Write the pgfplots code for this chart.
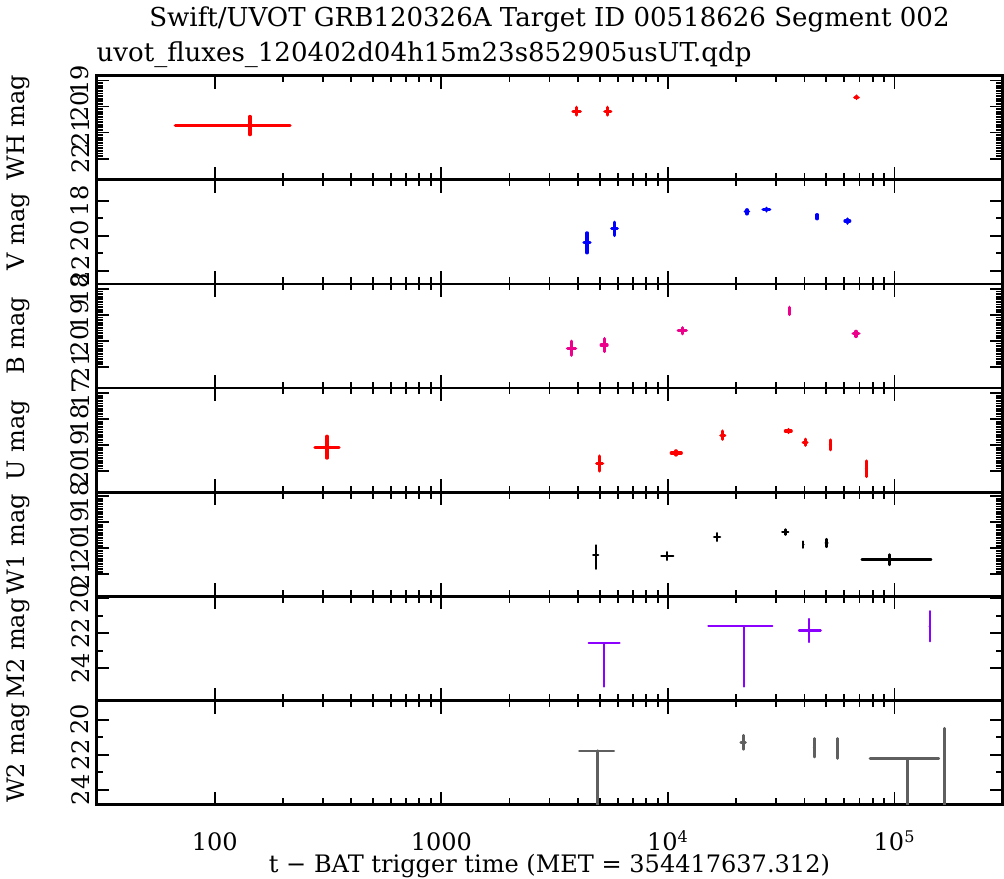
\documentclass[border=0pt]{standalone}
\usepackage{fontspec}
\setmainfont{DejaVu Serif}
\usepackage{pgfplots}
\pgfplotsset{compat=1.18}
\usepgfplotslibrary{groupplots}

\definecolor{uvpurple}{RGB}{140,0,255}
\definecolor{uvgray}{RGB}{95,95,95}

\pgfplotsset{
  uvot/.style={
    xmode=log, xmin=30, xmax=3e5,
    y dir=reverse,
    scale only axis, width=452.5pt, height=52pt,
    xtick={100,1000,10000,100000},
    xticklabels={100,1000,10\textsuperscript{4},10\textsuperscript{5}},
    tick align=inside,
    major tick length=6.5pt, minor tick length=3.2pt,
    every tick/.style={black, line width=0.9pt},
    axis line style={line width=1.3pt},
    /pgf/number format/assume math mode=true,
    tick label style={font=\fontsize{12}{12}\selectfont},
    yticklabel style={rotate=90, anchor=south},
    xticklabel style={anchor=base, yshift=-23pt},
    ylabel style={at={(axis description cs:-0.086,0.5)}, anchor=center,
      font=\fontsize{12}{12}\selectfont},
    clip mode=individual,
  },
  eb/.style 2 args={draw=none, mark=none,
    error bars/.cd, x dir=both, x explicit, y dir=both, y explicit,
    error mark=none, error bar style={draw=#1, line width=#2, line cap=round}},
}

\begin{document}
\begin{tikzpicture}
\begin{groupplot}[
  group style={group size=1 by 7, vertical sep=0pt, xticklabels at=edge bottom},
  uvot,
]
% WH
\nextgroupplot[ymin=18.81, ymax=22.81, ytick={19,20,21,22}, minor y tick num=9, ylabel={WH mag}]
\addplot[eb={red}{1.6pt}] table[x=t, y=m, x error minus=tm, x error plus=tp, y error minus=mm, y error plus=mp] {
t m tm tp mm mp
143 20.73 76 72 0.35 0.35
3955 20.18 150 150 0.15 0.15
5430 20.18 165 165 0.15 0.15
67900 19.64 1200 1200 0.05 0.05
};
% V
\nextgroupplot[ymin=16.8, ymax=22.74, ytick={18,20,22}, minor y tick num=1, ylabel={V mag}]
\addplot[eb={blue}{1.6pt}] table[x=t, y=m, x error minus=tm, x error plus=tp, y error minus=mm, y error plus=mp] {
t m tm tp mm mp
4395 20.36 135 135 0.53 0.61
5810 19.6 170 170 0.38 0.38
22300 18.63 400 400 0.12 0.12
27200 18.5 920 920 0.08 0.08
45500 18.91 0 0 0.12 0.12
61900 19.16 1500 1500 0.12 0.12
};
% B
\nextgroupplot[ymin=17.81, ymax=21.81, ytick={18,19,20,21}, minor y tick num=9, ylabel={B mag}]
\addplot[eb={magenta}{1.6pt}] table[x=t, y=m, x error minus=tm, x error plus=tp, y error minus=mm, y error plus=mp] {
t m tm tp mm mp
3760 20.28 155 155 0.27 0.27
5230 20.16 160 160 0.25 0.25
11570 19.61 470 470 0.12 0.12
34400 18.85 0 0 0.14 0.14
67600 19.73 2000 2000 0.1 0.1
};
% U
\nextgroupplot[ymin=16.81, ymax=20.81, ytick={17,18,19,20}, minor y tick num=9, ylabel={U mag}]
\addplot[eb={red}{1.6pt}] table[x=t, y=m, x error minus=tm, x error plus=tp, y error minus=mm, y error plus=mp] {
t m tm tp mm mp
313 19.08 36 41 0.42 0.42
5000 19.71 150 150 0.29 0.29
10840 19.3 500 610 0.08 0.08
17460 18.62 350 350 0.16 0.16
33980 18.46 1000 1000 0.06 0.06
40300 18.89 800 800 0.12 0.12
52100 18.99 0 0 0.19 0.19
75100 19.91 0 0 0.3 0.3
};
% W1
\nextgroupplot[ymin=17.85, ymax=21.85, ytick={18,19,20,21}, minor y tick num=9, ylabel={W1 mag}]
\addplot[eb={black}{1.2pt}] table[x=t, y=m, x error minus=tm, x error plus=tp, y error minus=mm, y error plus=mp] {
t m tm tp mm mp
4800 20.27 120 120 0.38 0.52
9930 20.3 580 620 0.15 0.15
16480 19.57 500 500 0.15 0.15
32950 19.38 1000 1000 0.1 0.1
39540 19.86 0 0 0.12 0.12
50130 19.8 500 500 0.15 0.15
95100 20.44 23500 49900 0.2 0.2
};
% M2
\nextgroupplot[ymin=19.9, ymax=25.84, ytick={20,22,24}, minor y tick num=1, ylabel={M2 mag}]
\addplot[eb={uvpurple}{1.1pt}] table[x=t, y=m, x error minus=tm, x error plus=tp, y error minus=mm, y error plus=mp] {
t m tm tp mm mp
5210 22.57 740 900 0 2.47
21670 21.61 6600 7180 0 3.43
42070 21.84 4200 5130 0.66 0.66
143000 21.6 0 0 0.86 0.86
};
% W2
\nextgroupplot[ymin=18.91, ymax=24.85, ytick={20,22,24}, minor y tick num=1, ylabel={W2 mag}]
\addplot[eb={uvgray}{1.4pt}] table[x=t, y=m, x error minus=tm, x error plus=tp, y error minus=mm, y error plus=mp] {
t m tm tp mm mp
4900 21.78 835 870 0 4
21480 21.29 500 500 0.4 0.4
44260 21.6 0 0 0.53 0.53
55950 21.64 0 0 0.57 0.57
114300 22.21 36400 42400 0 4
166000 22.5 0 0 2.01 3
};
\end{groupplot}
\node[anchor=base, font=\fontsize{13}{13}\selectfont] at ([yshift=24.5pt]group c1r1.north)
  {Swift/UVOT GRB120326A Target ID 00518626 Segment 002};
\node[anchor=base west, inner sep=0pt, font=\fontsize{13}{13}\selectfont] at ([yshift=7pt]group c1r1.north west)
  {uvot\_fluxes\_120402d04h15m23s852905usUT.qdp};
\node[anchor=base, inner sep=0pt, font=\fontsize{12}{12}\selectfont] at ([yshift=-34pt]group c1r7.south)
  {t − BAT trigger time (MET = 354417637.312)};
\end{tikzpicture}
\end{document}
